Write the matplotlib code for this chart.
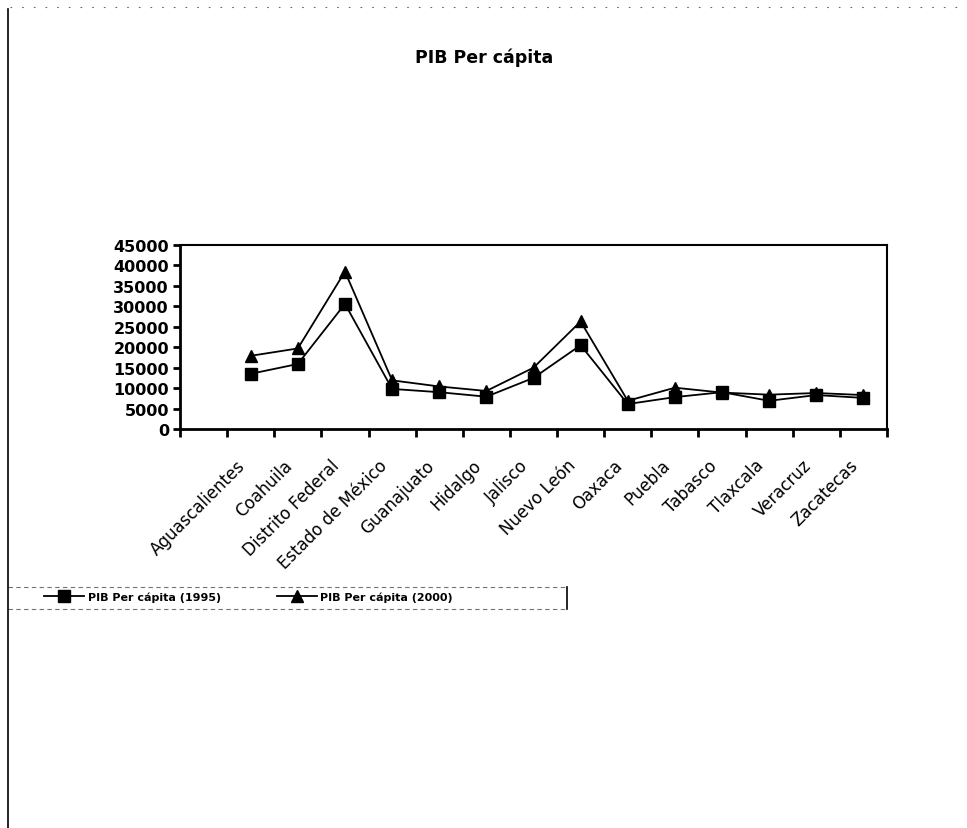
import numpy as np
import matplotlib
matplotlib.use("Agg")
import matplotlib.pyplot as plt
import matplotlib.transforms as mtransforms
from matplotlib.lines import Line2D

plt.rcParams["font.family"] = "DejaVu Sans"

# PIB per capita por entidad
estados = ["Aguascalientes", "Coahuila", "Distrito Federal", "Estado de México",
           "Guanajuato", "Hidalgo", "Jalisco", "Nuevo León", "Oaxaca", "Puebla",
           "Tabasco", "Tlaxcala", "Veracruz", "Zacatecas"]
pib_1995 = [13500, 15900, 30600, 9800, 9000, 7900, 12500, 20500,
            6100, 7800, 9000, 6900, 8300, 7600]
pib_2000 = [17900, 19700, 38500, 11900, 10400, 9300, 15000, 26300,
            6900, 10100, 8900, 8400, 8800, 8300]
yticks = np.arange(0, 45001, 5000)

W, H = 967, 829
fig = plt.figure(figsize=(W / 100, H / 100), dpi=100)
ax = fig.add_axes([180 / W, 1 - 430 / H, 707 / W, 184 / H])

# first category slot is left empty, states start at slot 1
x = np.arange(1, len(estados) + 1)
ax.plot(x, pib_1995, color="black", lw=1.3, marker="s", ms=8,
        label="PIB Per cápita (1995)")
ax.plot(x, pib_2000, color="black", lw=1.3, marker="^", ms=8,
        label="PIB Per cápita (2000)")

ax.set_xlim(-0.5, len(estados) + 0.5)
ax.set_ylim(0, 45000)
ax.set_yticks(yticks)
ax.set_yticklabels([str(v) for v in yticks], fontweight="bold", fontsize=11.5)
ax.tick_params(axis="y", direction="out", length=5, width=2, pad=3)

# boundary ticks between categories, labels at category centres
ax.set_xticks(np.arange(-0.5, len(estados) + 1, 1.0))
ax.set_xticklabels([])
ax.set_xticks(x, minor=True)
ax.set_xticklabels(estados, minor=True, fontsize=12)
ax.tick_params(axis="x", which="major", direction="out", length=6, width=2)
ax.tick_params(axis="x", which="minor", length=0, pad=24)
off = mtransforms.ScaledTranslation(-8 / 100, 0, fig.dpi_scale_trans)
for lab in ax.get_xticklabels(minor=True):
    lab.set_rotation(45)
    lab.set_rotation_mode("anchor")
    lab.set_ha("right")
    lab.set_va("center")
    lab.set_transform(lab.get_transform() + off)

for side in ["left", "bottom"]:
    ax.spines[side].set_linewidth(2)
for side in ["top", "right"]:
    ax.spines[side].set_linewidth(1.5)

fig.text(484 / W, 1 - 58 / H, "PIB Per cápita", ha="center", va="center",
         fontsize=12.5, fontweight="bold")

leg = fig.legend(loc="center left", bbox_to_anchor=(44 / W, 1 - 598 / H),
                 ncol=2, frameon=False, borderpad=0, borderaxespad=0,
                 handlelength=3.6, handletextpad=0.35, columnspacing=5,
                 prop={"weight": "bold", "size": 8})

# legend box edges and chart frame
ly0, ly1 = 1 - 610 / H, 1 - 588 / H
fig.add_artist(Line2D([8 / W, 567 / W], [ly1, ly1], transform=fig.transFigure,
                      color="0.45", lw=0.8, dashes=(4, 3)))
fig.add_artist(Line2D([8 / W, 567 / W], [ly0, ly0], transform=fig.transFigure,
                      color="0.45", lw=0.8, dashes=(4, 3)))
fig.add_artist(Line2D([567 / W, 567 / W], [ly0, ly1], transform=fig.transFigure,
                      color="black", lw=1.2))
fig.add_artist(Line2D([8 / W, 8 / W], [0, 1 - 10 / H], transform=fig.transFigure,
                      color="black", lw=1.2))
fig.add_artist(Line2D([10 / W, 960 / W], [1 - 8 / H, 1 - 8 / H],
                      transform=fig.transFigure, color="0.4", lw=0.8,
                      dashes=(1.5, 9)))

fig.savefig("out.png", dpi=100)
